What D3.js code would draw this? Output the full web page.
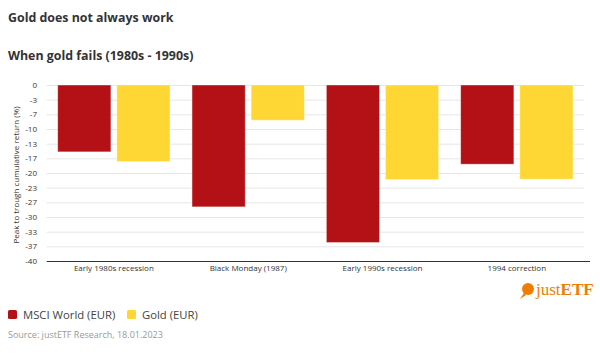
<!DOCTYPE html>
<html><head><meta charset="utf-8">
<script src="https://cdn.jsdelivr.net/npm/d3@7"></script>
<style>
body{margin:0;background:#fff;}
svg{display:block;font-family:"Open Sans",sans-serif;}
</style></head>
<body><svg id="c" width="600" height="356"></svg>
<script>
const categories = ["Early 1980s recession","Black Monday (1987)","Early 1990s recession","1994 correction"];
const seriesNames = ["MSCI World (EUR)","Gold (EUR)"];
const msciValues = [-15.2, -27.7, -35.8, -18.0];
const goldValues = [-17.4, -8.0, -21.5, -21.4];
const tickValues = [0,-3.333,-6.667,-10,-13.333,-16.667,-20,-23.333,-26.667,-30,-33.333,-36.667,-40];
const tickLabels = ["0","-3","-7","-10","-13","-17","-20","-23","-27","-30","-33","-37","-40"];
const colors = ["#b31115","#fed734"];

const svg = d3.select("#c");
svg.append("text").attr("x",8).attr("y",22).attr("font-size",12.4).attr("font-weight",700).attr("fill","#333").text("Gold does not always work");
svg.append("text").attr("x",8).attr("y",60).attr("font-size",12.4).attr("font-weight",700).attr("fill","#333").text("When gold fails (1980s - 1990s)");

const L=46.7, R=584, T=85, B=261;
const y = d3.scaleLinear().domain([-40,0]).range([B,T]);
const x0 = d3.scaleBand().domain(categories).range([L,R]).padding(0);
const x1 = d3.scaleBand().domain(seriesNames).range([11, x0.bandwidth()-11]).paddingInner(0.1);

// gridlines
svg.append("g").selectAll("line").data(tickValues.slice(0,-1)).join("line")
  .attr("x1",L).attr("x2",R).attr("y1",d=>y(d)+0.5).attr("y2",d=>y(d)+0.5)
  .attr("stroke","#e6e6e6").attr("stroke-width",1);

// y tick labels
const yAxis = d3.axisLeft(y).tickValues(tickValues).tickFormat((d,i)=>tickLabels[i]).tickSize(0).tickPadding(0);
const ga = svg.append("g").attr("transform",`translate(37,0)`).call(yAxis);
ga.select(".domain").remove();
ga.selectAll("text").attr("font-size",8).attr("fill","#333").attr("font-family","'Open Sans',sans-serif");

// bars
const data = categories.map((c,i)=>({c, vals:[msciValues[i],goldValues[i]]}));
const g = svg.append("g").selectAll("g").data(data).join("g").attr("transform",d=>`translate(${x0(d.c)},0)`);
g.selectAll("rect").data(d=>d.vals.map((v,j)=>({v,s:seriesNames[j],j}))).join("rect")
  .attr("x",d=>x1(d.s)).attr("width",x1.bandwidth())
  .attr("y",y(0)).attr("height",d=>y(d.v)-y(0))
  .attr("fill",d=>colors[d.j]).attr("stroke","rgba(255,255,255,0.5)").attr("stroke-width",0.8);

// bottom axis line
svg.append("line").attr("x1",L).attr("x2",R+6).attr("y1",B+0.5).attr("y2",B+0.5).attr("stroke","#333").attr("stroke-width",1);

// x labels
const xAxis = d3.axisBottom(x0).tickSize(0).tickPadding(0);
const gx = svg.append("g").attr("transform",`translate(0,${B+4})`).call(xAxis);
gx.select(".domain").remove();
gx.selectAll("text").attr("font-size",8).attr("fill","#333").attr("font-family","'Open Sans',sans-serif");

// y title
svg.append("text").attr("transform",`translate(19,${(T+B)/2+2}) rotate(-90)`).attr("text-anchor","middle")
  .attr("font-size",8).attr("fill","#333").text("Peak to trough cumulative return (%)");

// logo
const logo = svg.append("g").attr("transform","translate(528,291)");
logo.append("circle").attr("cx",0).attr("cy",-2).attr("r",6).attr("fill","#f07d00");
logo.append("path").attr("d","M-4,2 L-8,8 L-2,4 Z").attr("fill","#f07d00");
logo.append("text").attr("x",8).attr("y",4).attr("font-family","'Liberation Serif',serif").attr("font-size",17).attr("fill","#f07d00")
  .html('just<tspan font-weight="700">ETF</tspan>');

// legend
const lg = svg.append("g").attr("transform","translate(8,315)");
const items = [{n:seriesNames[0],x:0},{n:seriesNames[1],x:119}];
items.forEach((it,i)=>{
  lg.append("rect").attr("x",it.x).attr("y",-5).attr("width",9).attr("height",9).attr("rx",1.5).attr("fill",colors[i]);
  lg.append("text").attr("x",it.x+15).attr("y",4).attr("font-size",11.3).attr("fill","#444").text(it.n);
});
svg.append("text").attr("x",8).attr("y",338).attr("font-size",9).attr("fill","#999").text("Source: justETF Research, 18.01.2023");
</script></body></html>
